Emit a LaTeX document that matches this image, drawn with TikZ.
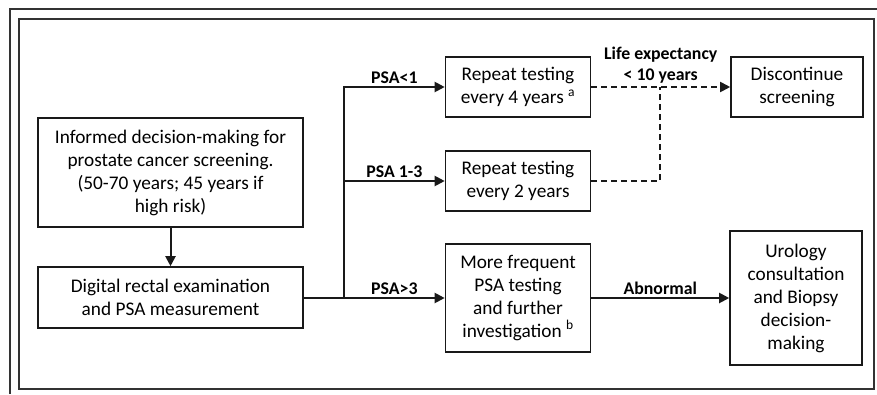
\documentclass[tikz,border=0pt]{standalone}
\usepackage{fontspec}
\setmainfont{Carlito}
\usetikzlibrary{arrows.meta}
\begin{document}
\begin{tikzpicture}[x=1pt,y=-1pt,
  box/.style={draw=black!90, line width=1.6pt, align=center, inner sep=0pt,
    font=\fontsize{19.3}{23}\selectfont},
  lbl/.style={font=\bfseries\fontsize{17.8}{21}\selectfont, align=center, inner sep=2pt, text=black},
  conn/.style={line width=2pt, draw=black!90, -{Triangle[length=10pt,width=10pt]}},
  dconn/.style={line width=1.8pt, draw=black!90, dash pattern=on 6pt off 4pt},
  frame/.style={line width=1.8pt, draw=black!80}]
\useasboundingbox (0,0) rectangle (877,394);
% frames
\draw[frame] (10,394) -- (10,9) -- (877,9);
\draw[frame] (19,19) rectangle (874,389);
% nodes
\node[box, minimum width=265pt, minimum height=109pt] (inf) at (170.5,172.5)
  {Informed decision-making for\\prostate cancer screening.\\(50-70 years; 45 years if\\high risk)};
\node[box, minimum width=265pt, minimum height=61pt] (dre) at (170.5,297.5)
  {Digital rectal examination\\and PSA measurement};
\node[box, minimum width=145pt, minimum height=60pt] (r4) at (518,87)
  {Repeat testing\\every 4 years \textsuperscript{a}};
\node[box, minimum width=145pt, minimum height=60pt] (r2) at (518,181)
  {Repeat testing\\every 2 years};
\node[box, minimum width=145pt, minimum height=108pt] (mf) at (518,298)
  {More frequent\\PSA testing\\and further\\investigation \textsuperscript{b}};
\node[box, minimum width=132pt, minimum height=60pt] (dc) at (797,87)
  {Discontinue\\screening};
\node[box, minimum width=132pt, minimum height=134pt] (uro) at (796,298)
  {Urology\\consultation\\and Biopsy\\decision-\\making};
\coordinate (br) at (344,298);
\coordinate (jn) at (660,87);
% connectors
\draw[conn] (inf.south) -- (dre.north);
\draw[line width=2pt, draw=black!90] (dre.east |- br) -- (br);
\draw[conn] (br) -- node[lbl, above] {PSA>3} (mf.west);
\draw[conn] (br) |- node[lbl, pos=0.75, above] {PSA<1} (r4.west);
\draw[conn] (br) |- node[lbl, pos=0.75, above] {PSA 1-3} (r2.west);
\draw[conn] (mf.east) -- node[lbl, above] {Abnormal} (uro.west);
\draw[dconn, -{Triangle[length=10pt,width=10pt]}] (r4.east) -- node[lbl, above, yshift=1pt] {Life expectancy\\< 10 years} (dc.west);
\draw[dconn] (r2.east) -| (jn);
\end{tikzpicture}
\end{document}
